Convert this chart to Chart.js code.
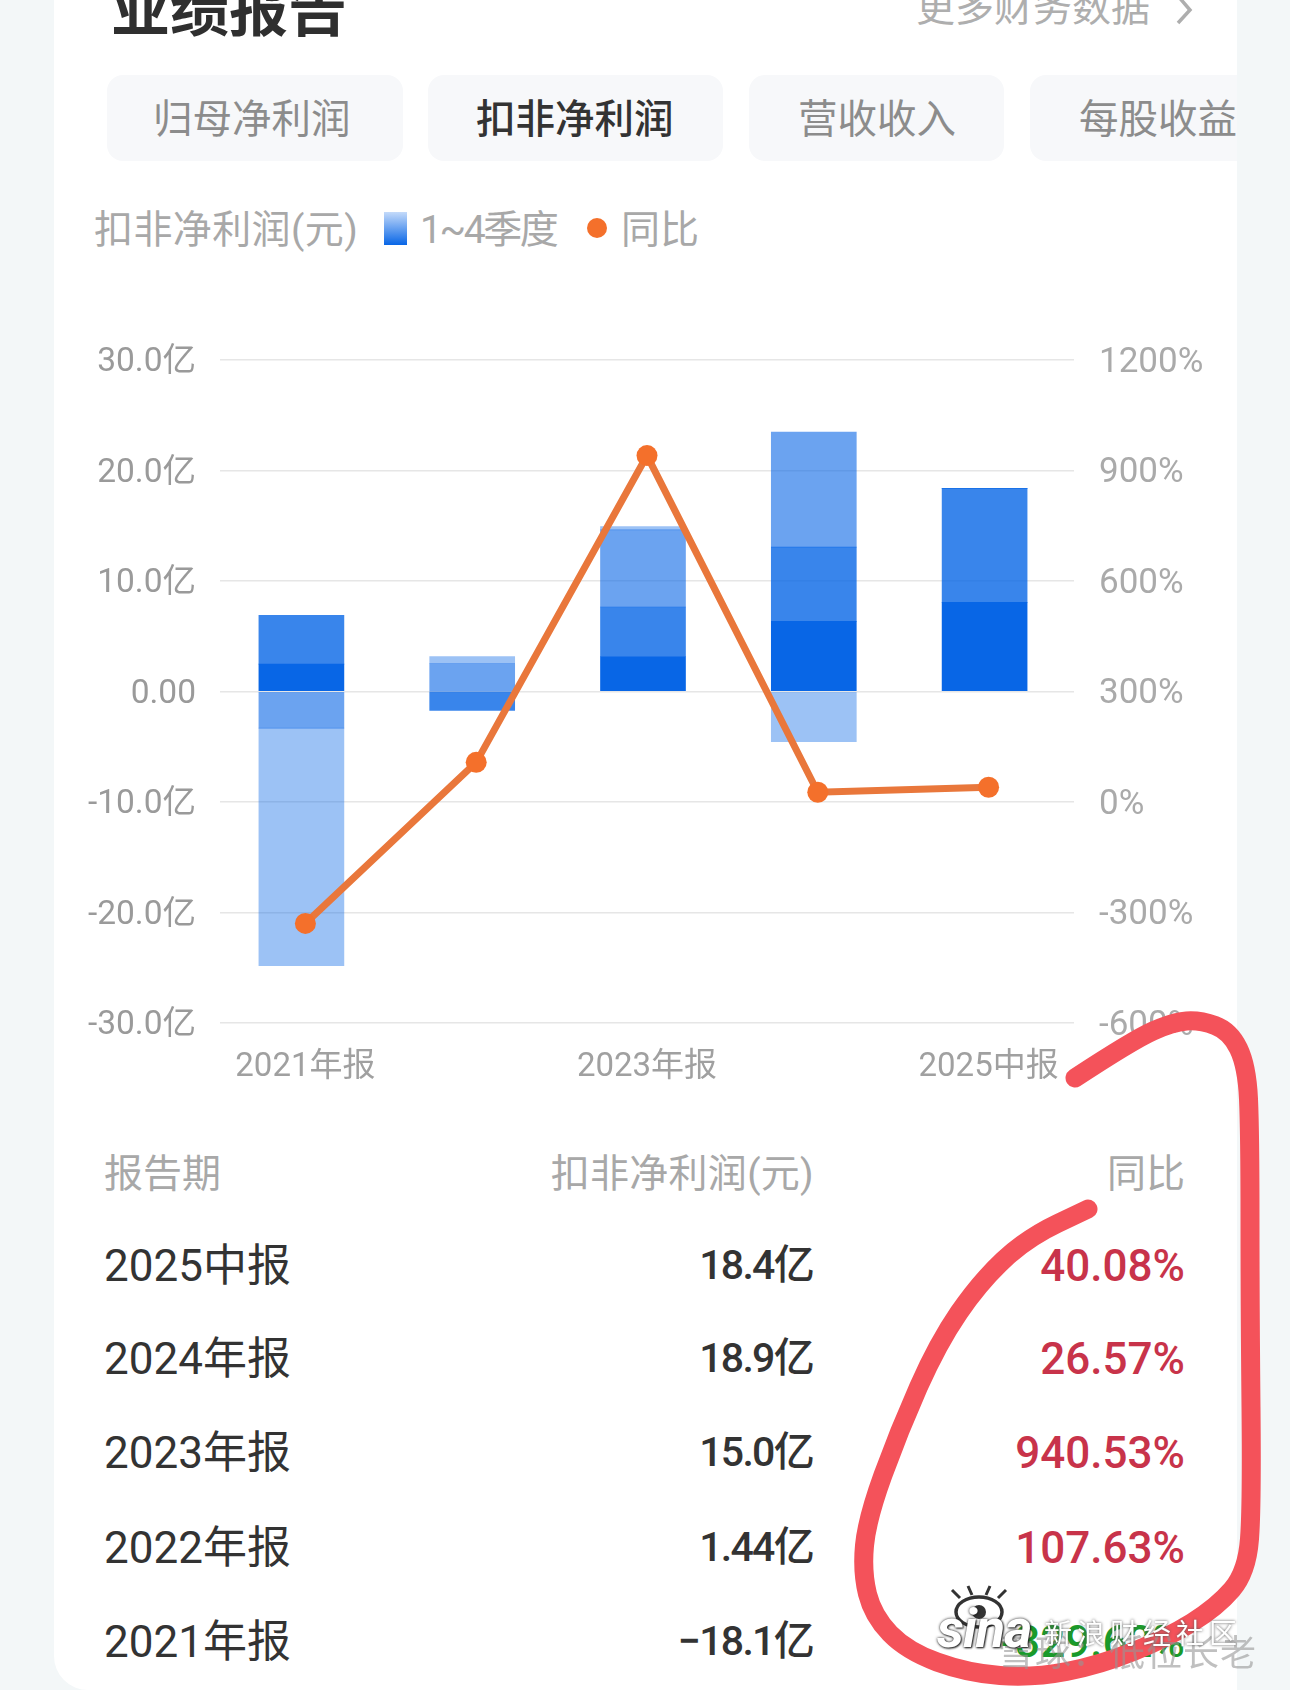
<!DOCTYPE html>
<html lang="zh">
<head>
<meta charset="utf-8">
<title>业绩报告</title>
<script src="https://cdn.jsdelivr.net/npm/chart.js@4"></script>
<style>
    html, body { margin: 0; padding: 0; width: 1290px; height: 1690px; overflow: hidden; background: #f3f7f8; }
    body { position: relative; font-family: Roboto, "Noto Sans CJK SC", sans-serif; }
    #card { position: absolute; left: 54px; top: -40px; width: 1183px; height: 1730px; background: #fff; border-bottom-left-radius: 34px; overflow: hidden; }
    .t { position: absolute; white-space: nowrap; transform: translateY(-50%); line-height: 1.2; }
    .r { transform: translate(-100%, -50%); }
    .tab { position: absolute; top: 115px; height: 86px; background: #f7f8fa; border-radius: 16px; }
    #chartBox { position: absolute; left: 54px; top: 340px; width: 1183px; height: 750px; }
    #stroke, #chevron, #sinaEye { position: absolute; left: 0; top: 0; }
    .wm { position: absolute; white-space: nowrap; }
</style>
</head>
<body>
<div id="card">
    <div class="tab" style="left:53px;width:296px"></div>
    <div class="tab" style="left:374px;width:295px"></div>
    <div class="tab" style="left:695px;width:255px"></div>
    <div class="tab" style="left:976px;width:240px"></div>
</div>
<div class="t" style="left:111px;top:11px;font-size:59px;font-weight:700;color:#2f2f2f">业绩报告</div>
<div class="t" style="left:916px;top:8px;font-size:39px;color:#aeaeae">更多财务数据</div>
<svg id="chevron" width="1290" height="60"><polyline points="1178,-4 1190,10 1178,23" fill="none" stroke="#aeaeae" stroke-width="3.5"/></svg>
<div class="t" style="left:153px;top:120px;font-size:39.5px;color:#8c8c8c">归母净利润</div>
<div class="t" style="left:476px;top:120px;font-size:39.5px;font-weight:500;color:#333">扣非净利润</div>
<div class="t" style="left:798px;top:120px;font-size:39.5px;color:#8c8c8c">营收收入</div>
<div class="t" style="left:1079px;top:120px;width:158px;overflow:hidden;font-size:39.5px;color:#8c8c8c">每股收益</div>

<div class="t" style="left:94px;top:230px;font-size:39px;letter-spacing:.4px;color:#a8a8a8">扣非净利润(元)</div>
<div style="position:absolute;left:384px;top:212px;width:23px;height:33px;background:linear-gradient(#c4dafa,#0866e6)"></div>
<div class="t" style="left:420px;top:230px;font-size:39px;letter-spacing:-2.4px;color:#a8a8a8">1~4季度</div>
<div style="position:absolute;left:587px;top:218px;width:20px;height:20px;border-radius:50%;background:#f4702b"></div>
<div class="t" style="left:621px;top:230px;font-size:39px;color:#a8a8a8">同比</div>

<div id="chartBox"><canvas id="resultsCanvas" width="1183" height="750"></canvas></div>
<div id="tableRows"></div>
<svg id="stroke" width="1290" height="1690"><path id="strokePath" fill="none" stroke="#f4525a" stroke-width="19" stroke-linecap="round" stroke-linejoin="round"/></svg>

<div class="wm" style="left:998px;top:1624px;font-size:36px;letter-spacing:1px;color:rgba(150,150,150,.6)">雪球：低位长老</div>
<svg id="sinaEye" width="1290" height="1690">
    <ellipse cx="979" cy="1612" rx="23" ry="15" fill="#fff" stroke="#333" stroke-width="3.5"/>
    <circle cx="979" cy="1612" r="7" fill="#333"/>
    <path d="M960 1598 L952 1590 M972 1595 L968 1586 M986 1595 L990 1586 M998 1598 L1006 1590" stroke="#333" stroke-width="3"/>
</svg>
<div class="wm" style="left:937px;top:1602px;font-size:54px;line-height:54px;font-weight:700;font-style:italic;color:#fff;text-shadow:0 0 3px #222,1px 1px 2px #222;letter-spacing:-1px">sina</div>
<div class="wm" style="left:1044px;top:1612px;font-size:28px;letter-spacing:5px;color:#fff;text-shadow:0 0 3px #555">新浪财经社区</div>

<script>
const periods = ["2021年报", "2022年报", "2023年报", "2024年报", "2025中报"];
const quarter1 = [2.48, 0, 3.17, 6.34, 8.07];
const quarter2 = [4.41, -1.72, 4.48, 6.72, 10.31];
const quarter3 = [-3.31, 2.53, 6.97, 10.41, 0];
const quarter4 = [-21.5, 0.63, 0.31, -4.55, 0];
const yoyGrowth = [-329.62, 107.63, 940.53, 26.57, 40.08];

// table rows, newest first as in the app
const tablePeriods = ["2025中报", "2024年报", "2023年报", "2022年报", "2021年报"];
const tableProfit = ["18.4亿", "18.9亿", "15.0亿", "1.44亿", "−18.1亿"];
const tableYoy = ["40.08%", "26.57%", "940.53%", "107.63%", "-329.62%"];
const tableRowY = [1266, 1359, 1453, 1548, 1642];

// hand drawn circle on the screenshot
const strokePoints = [
    [1075, 1078], [1133, 1040], [1173, 1022], [1200, 1020], [1230, 1031], [1247, 1066],
    [1250, 1132], [1250, 1308], [1252, 1506], [1247, 1572], [1217, 1607], [1167, 1638],
    [1100, 1665], [1033, 1678], [967, 1673], [907, 1651], [873, 1616], [862, 1572],
    [867, 1519], [899, 1431], [938, 1343], [980, 1282], [1027, 1238], [1088, 1209],
];

function addText(text, left, top, style, rightAlign) {
    const el = document.createElement("div");
    el.className = rightAlign ? "t r" : "t";
    el.textContent = text;
    el.style.cssText = `left:${left}px;top:${top}px;${style}`;
    document.getElementById("tableRows").appendChild(el);
}

addText("报告期", 104, 1174, "font-size:39px;color:#a8a8a8");
addText("扣非净利润(元)", 814, 1174, "font-size:39px;letter-spacing:.3px;color:#a8a8a8", true);
addText("同比", 1185, 1174, "font-size:39px;color:#a8a8a8", true);
tablePeriods.forEach((period, i) => {
    const green = tableYoy[i].startsWith("-");
    addText(period, 104, tableRowY[i], "font-size:44px;color:#333");
    addText(tableProfit[i], 813, tableRowY[i], "font-size:41px;font-weight:500;letter-spacing:-1.7px;color:#333", true);
    addText(tableYoy[i], 1185, tableRowY[i], `font-size:44px;font-weight:500;color:${green ? "#1a9a2a" : "#c8334a"}`, true);
});

let strokeD = `M${strokePoints[0][0]} ${strokePoints[0][1]}`;
for (let i = 1; i < strokePoints.length - 1; i++) {
    const [x, y] = strokePoints[i];
    const [nx, ny] = strokePoints[i + 1];
    strokeD += ` Q${x} ${y} ${(x + nx) / 2} ${(y + ny) / 2}`;
}
const lastPoint = strokePoints[strokePoints.length - 1];
strokeD += ` L${lastPoint[0]} ${lastPoint[1]}`;
document.getElementById("strokePath").setAttribute("d", strokeD);

const fontFamily = 'Roboto, "Noto Sans CJK SC", sans-serif';

// the bars sit a little left of the points in the original,
// and the y tick labels a little below their grid lines
const nudgeMarks = {
    id: "nudgeMarks",
    afterDatasetsUpdate(chart) {
        chart.getSortedVisibleDatasetMetas()
            .filter((meta) => meta.type === "bar")
            .forEach((meta) => meta.data.forEach((bar) => { bar.x -= 4; }));
        [chart.scales.y, chart.scales.yRight].forEach((scale) => {
            scale.getLabelItems().forEach((item) => { item.options.translation[1] += 3; });
        });
    },
};

function barDataset(label, data, color) {
    return { type: "bar", label, data, backgroundColor: color, yAxisID: "y", barThickness: 85, borderWidth: 0, order: 2 };
}

// pin an axis to a fixed width so the plot area lines up with the screenshot
function fixWidth(width) {
    return (scale) => {
        scale.width = width;
        scale.paddingTop = 0;
        scale.paddingBottom = 0;
    };
}

const ctx = document.getElementById("resultsCanvas").getContext("2d");
const resultsChart = new Chart(ctx, {
    type: "bar",
    data: {
        labels: periods,
        datasets: [
            {
                type: "line",
                label: "同比",
                data: yoyGrowth,
                yAxisID: "yRight",
                borderColor: "#e9773b",
                borderWidth: 7,
                backgroundColor: "#f4702b",
                pointBackgroundColor: "#f4702b",
                pointBorderWidth: 0,
                pointRadius: 10.5,
                tension: 0,
                clip: false,
                order: 1,
            },
            barDataset("一季度", quarter1, "rgba(8,102,230,1)"),
            barDataset("二季度", quarter2, "rgba(8,102,230,0.8)"),
            barDataset("三季度", quarter3, "rgba(8,102,230,0.6)"),
            barDataset("四季度", quarter4, "rgba(8,102,230,0.4)"),
        ],
    },
    options: {
        responsive: false,
        animation: false,
        layout: { autoPadding: false, padding: { top: 20 } },
        plugins: { legend: { display: false }, tooltip: { enabled: false } },
        scales: {
            x: {
                stacked: true,
                grid: { display: false },
                border: { display: false },
                afterFit: (scale) => { scale.height = 67; },
                ticks: {
                    font: { family: fontFamily, size: 33 },
                    color: "#a0a0a0",
                    padding: 17,
                    autoSkip: false,
                    maxRotation: 0,
                    callback(value, index) {
                        return index % 2 === 0 ? this.getLabelForValue(value) : "";
                    },
                },
            },
            y: {
                position: "left",
                stacked: true,
                min: -30,
                max: 30,
                grid: { color: "#e6e6e6", lineWidth: 1.5, drawTicks: false },
                border: { display: false },
                afterFit: fixWidth(166),
                ticks: {
                    font: { family: fontFamily, size: 33.5 },
                    color: "#9a9a9a",
                    padding: 24,
                    stepSize: 10,
                    callback: (value) => (value === 0 ? "0.00" : value.toFixed(1) + "亿"),
                },
            },
            yRight: {
                position: "right",
                min: -600,
                max: 1200,
                grid: { display: false, drawTicks: false },
                border: { display: false },
                afterFit: fixWidth(163),
                ticks: {
                    font: { family: fontFamily, size: 35 },
                    color: "#aaaaaa",
                    padding: 25,
                    stepSize: 300,
                    callback: (value) => value + "%",
                },
            },
        },
    },
    plugins: [nudgeMarks],
});
</script>
</body>
</html>
